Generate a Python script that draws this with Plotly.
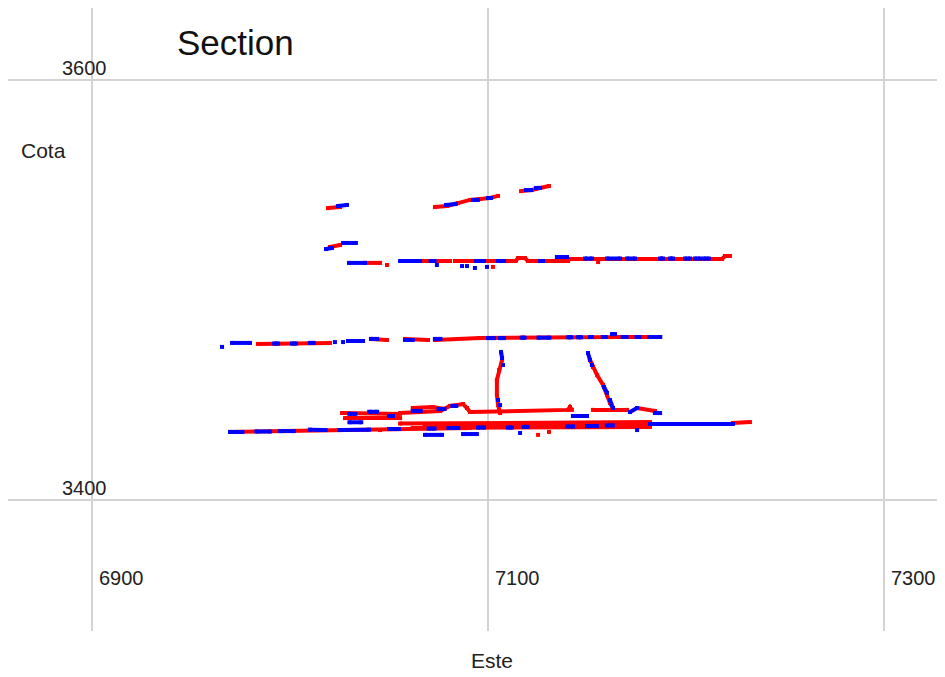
import plotly.graph_objects as go

N = None
# ---- data (Este, Cota) ----
red_este = [
    7019.2, 7025.3, N,
    7073.2, 7079.3, 7084.8, 7090.9, 7096.0, 7101.0, 7105.1, N,
    7116.7, 7122.2, 7126.3, 7130.8, N,
    7020.2, 7025.3, N,
    7037.9, 7045.5, N,
    7049.0, N,
    7065.7, 7080.8, N,
    7083.3, 7114.0, 7115.2, 7118.7, 7120.2, 7140.4, 7141.4, 7218.2, 7219.7, 7222.2, N,
    7102.5, N,
    7155.6, N,
    6983.8, 7020.2, N,
    7040.9, 7049.0, N,
    7058.1, 7069.7, N,
    7073.2, 7096.0, 7162.6, 7163.1, 7164.1, 7164.6, 7186.9, N,
    7107.1, 7105.6, 7104.5, 7104.5, 7105.1, 7106.1, N,
    7151.5, 7153.0, 7155.1, 7158.1, 7160.1, 7161.6, 7163.6, N,
    7026.3, 7055.6, N,
    7027.8, 7055.6, N,
    7055.6, 7075.8, 7080.8, 7087.4, 7089.4, 7090.9, N,
    7062.0, 7072.0, 7078.0, N,
    7090.9, 7140.4, 7141.4, 7142.4, N,
    7153.0, 7170.2, N,
    7175.3, 7184.3, N,
    6969.7, 7045.5, 7090.9, N,
    7055.6, 7181.8, N,
    7068.0, 7181.8, N,
    7062.0, 7181.8, N,
    7223.7, 7232.3, N,
    7125.3, N,
    7130.8, N,
]
red_cota = [
    3539.0, 3539.5, N,
    3539.5, 3540.0, 3541.4, 3542.9, 3543.3, 3543.8, 3544.8, N,
    3547.1, 3547.6, 3548.6, 3549.5, N,
    3520.5, 3521.4, N,
    3512.9, 3512.9, N,
    3511.9, N,
    3513.8, 3513.8, N,
    3513.8, 3513.8, 3515.2, 3515.2, 3513.8, 3513.8, 3514.8, 3514.8, 3516.2, 3516.2, N,
    3511.0, N,
    3513.3, N,
    3474.3, 3474.8, N,
    3476.7, 3476.2, N,
    3476.7, 3476.2, N,
    3476.2, 3477.1, 3477.6, 3479.0, 3479.0, 3477.6, 3477.6, N,
    3466.7, 3461.9, 3457.1, 3450.0, 3445.2, 3441.4, N,
    3466.7, 3463.3, 3459.5, 3454.8, 3450.0, 3446.2, 3442.9, N,
    3441.4, 3441.0, N,
    3439.0, 3439.0, N,
    3441.4, 3442.4, 3444.8, 3445.7, 3443.8, 3441.9, N,
    3443.8, 3444.3, 3443.3, N,
    3441.9, 3442.9, 3444.3, 3442.9, N,
    3442.9, 3442.9, N,
    3443.8, 3442.4, N,
    3432.4, 3433.3, 3434.3, N,
    3436.4, 3437.1, N,
    3435.3, 3435.8, N,
    3434.3, 3434.8, N,
    3436.7, 3437.1, N,
    3431.0, N,
    3432.4, N,
]

blue_este = [
    7024.2, 7028.8, N,
    7078.8, 7083.8, N, 7092.4, 7094.9, N, 7100.0, 7101.5, N,
    7119.2, 7121.7, N, 7124.2, 7126.3, N,
    7018.2, 7021.2, N, 7026.8, 7033.3, N,
    7029.8, 7037.9, N, 7055.6, 7065.7, N,
    7074.2, N, 7086.9, N, 7089.4, N, 7093.4, N, 7099.5, N,
    7071.0, 7073.0, N, 7094.0, 7098.0, N, 7105.0, 7108.0, N,
    7126.3, 7127.8, N, 7134.8, 7139.9, N, 7149.0, 7152.5, N,
    7160.1, 7166.7, N, 7170.2, 7174.2, N, 7186.9, 7188.4, N,
    7191.9, 7193.4, N, 7199.5, 7202.0, N, 7204.5, 7207.1, N, 7209.0, 7211.5, N,
    6965.7, N, 6970.7, 6979.8, N, 6992.0, 6994.0, N, 7001.0, 7003.0, N,
    7010.0, 7012.0, N, 7022.7, N, 7026.8, N, 7029.3, 7036.9, N,
    7040.9, 7044.0, N, 7058.1, 7062.0, N, 7073.2, 7076.0, N,
    7100.0, 7103.0, N, 7106.0, 7108.0, N, 7117.0, 7118.5, N,
    7125.5, 7131.0, N, 7140.5, 7142.0, N, 7145.5, 7147.0, N,
    7151.5, 7152.5, N, 7158.0, 7159.5, N, 7162.6, 7164.1, N,
    7168.0, 7170.0, N, 7175.0, 7176.5, N, 7181.5, 7187.0, N,
    7106.6, 7107.1, N, 7107.6, N, 7105.1, N, 7106.1, N,
    7150.5, 7151.5, N, 7152.5, N, 7158.6, 7160.1, N, 7161.6, 7163.1, N,
    7030.0, 7033.0, N, 7040.0, 7044.0, N, 7050.0, 7052.0, N, 7030.0, 7036.0, N,
    7062.0, 7066.0, N, 7075.0, 7078.0, N, 7082.0, 7084.0, N,
    7142.9, 7150.0, N, 7171.7, 7175.3, N, 7184.3, 7186.9, N,
    6969.7, 6976.0, N, 6983.0, 6990.0, N, 6995.0, 7002.0, N,
    7010.0, 7018.0, N, 7025.0, 7040.0, N, 7050.0, 7055.0, N,
    7070.0, 7073.0, N, 7080.0, 7085.0, N, 7095.0, 7098.0, N,
    7110.0, 7112.0, N, 7118.0, 7120.0, N, 7140.0, 7143.0, N,
    7150.0, 7155.0, N, 7160.0, 7163.0, N, 7181.8, 7223.7, N,
    7068.2, 7076.8, N, 7087.4, 7094.4, N, 7116.2, N, 7175.3, N,
]
blue_cota = [
    3540.0, 3540.5, N,
    3540.5, 3541.0, N, 3542.9, 3542.9, N, 3543.8, 3543.8, N,
    3547.6, 3547.6, N, 3548.6, 3548.6, N,
    3519.5, 3520.0, N, 3522.4, 3522.4, N,
    3512.9, 3512.9, N, 3513.8, 3513.8, N,
    3511.9, N, 3511.4, N, 3511.4, N, 3510.5, N, 3511.0, N,
    3513.8, 3513.8, N, 3513.8, 3513.8, N, 3513.8, 3513.8, N,
    3513.8, 3513.8, N, 3515.7, 3515.7, N, 3515.0, 3515.0, N,
    3515.0, 3515.0, N, 3515.0, 3515.0, N, 3515.0, 3515.0, N,
    3515.0, 3515.0, N, 3515.0, 3515.0, N, 3515.0, 3515.0, N, 3515.0, 3515.0, N,
    3472.9, N, 3474.8, 3474.8, N, 3474.5, 3474.5, N, 3474.5, 3474.5, N,
    3474.8, 3474.8, N, 3475.2, N, 3475.2, N, 3475.7, 3475.7, N,
    3476.7, 3476.7, N, 3476.2, 3476.2, N, 3476.7, 3476.7, N,
    3477.1, 3477.1, N, 3477.1, 3477.1, N, 3477.3, 3477.3, N,
    3477.3, 3477.3, N, 3477.5, 3477.5, N, 3477.5, 3477.5, N,
    3477.6, 3477.6, N, 3477.6, 3477.6, N, 3479.0, 3479.0, N,
    3477.6, 3477.6, N, 3477.6, 3477.6, N, 3477.6, 3477.6, N,
    3470.5, 3467.6, N, 3464.3, N, 3447.6, N, 3445.2, N,
    3470.0, 3466.7, N, 3464.3, N, 3453.8, 3451.0, N, 3447.6, 3443.8, N,
    3441.0, 3441.0, N, 3442.0, 3442.0, N, 3440.0, 3440.0, N, 3437.0, 3437.0, N,
    3442.4, 3442.4, N, 3443.3, 3443.3, N, 3444.8, 3444.8, N,
    3440.0, 3440.0, N, 3441.9, 3443.8, N, 3441.4, 3441.4, N,
    3432.4, 3432.4, N, 3432.6, 3432.6, N, 3432.8, 3432.8, N,
    3433.5, 3433.3, N, 3433.3, 3433.5, N, 3433.8, 3433.8, N,
    3434.0, 3434.0, N, 3434.3, 3434.3, N, 3434.5, 3434.5, N,
    3434.5, 3434.5, N, 3434.8, 3434.8, N, 3435.0, 3435.0, N,
    3435.2, 3435.2, N, 3435.5, 3435.5, N, 3436.2, 3436.2, N,
    3431.0, 3431.0, N, 3431.4, 3431.4, N, 3431.9, N, 3433.3, N,
]

x_ticks = [6900, 7100, 7300]
x_tick_labels = ["6900", "7100", "7300"]
y_ticks = [3400, 3600]
y_tick_labels = ["3400", "3600"]

FONT = "Liberation Sans, Arial, sans-serif"

fig = go.Figure()
fig.add_trace(go.Scatter(
    x=red_este, y=red_cota, mode="lines+markers",
    line=dict(color="#ff0000", width=4),
    marker=dict(color="#ff0000", size=4, symbol="square", line=dict(width=0)),
    connectgaps=False, hoverinfo="x+y", showlegend=False,
))
fig.add_trace(go.Scatter(
    x=blue_este, y=blue_cota, mode="lines+markers",
    line=dict(color="#0000ff", width=4),
    marker=dict(color="#0000ff", size=4, symbol="square", line=dict(width=0)),
    connectgaps=False, hoverinfo="x+y", showlegend=False,
))

annotations = []
for v, t in zip(y_ticks, y_tick_labels):
    annotations.append(dict(x=6900, y=v, xref="x", yref="y", text=t,
                            showarrow=False, xanchor="right", yanchor="middle",
                            xshift=17, yshift=12,
                            font=dict(family=FONT, size=20, color="#222222")))
for v, t in zip(x_ticks, x_tick_labels):
    annotations.append(dict(x=v, y=0.085, xref="x", yref="paper", text=t,
                            showarrow=False, xanchor="left", yanchor="middle",
                            xshift=5,
                            font=dict(family=FONT, size=20, color="#222222")))
annotations += [
    dict(x=0.0374, y=0.772, xref="paper", yref="paper", text="Cota",
         showarrow=False, xanchor="center", yanchor="middle",
         font=dict(family=FONT, size=21, color="#222222")),
    dict(x=0.5165, y=-0.048, xref="paper", yref="paper", text="Este",
         showarrow=False, xanchor="center", yanchor="middle",
         font=dict(family=FONT, size=21, color="#222222")),
    dict(x=0.178, y=0.945, xref="paper", yref="paper", text="Section",
         showarrow=False, xanchor="left", yanchor="middle",
         font=dict(family=FONT, size=35, color="#111111")),
]

fig.update_layout(
    width=937, height=669,
    margin=dict(l=0, r=0, t=0, b=46),
    paper_bgcolor="white", plot_bgcolor="white",
    annotations=annotations,
    xaxis=dict(range=[6857.6, 7330.8], tickvals=x_ticks, showticklabels=False,
               showgrid=True, gridcolor="#d3d3d3", gridwidth=2,
               zeroline=False, showline=False, ticks=""),
    yaxis=dict(range=[3337.6, 3634.3], tickvals=y_ticks, showticklabels=False,
               showgrid=True, gridcolor="#d3d3d3", gridwidth=2,
               zeroline=False, showline=False, ticks=""),
)

fig.write_html("out.html")
